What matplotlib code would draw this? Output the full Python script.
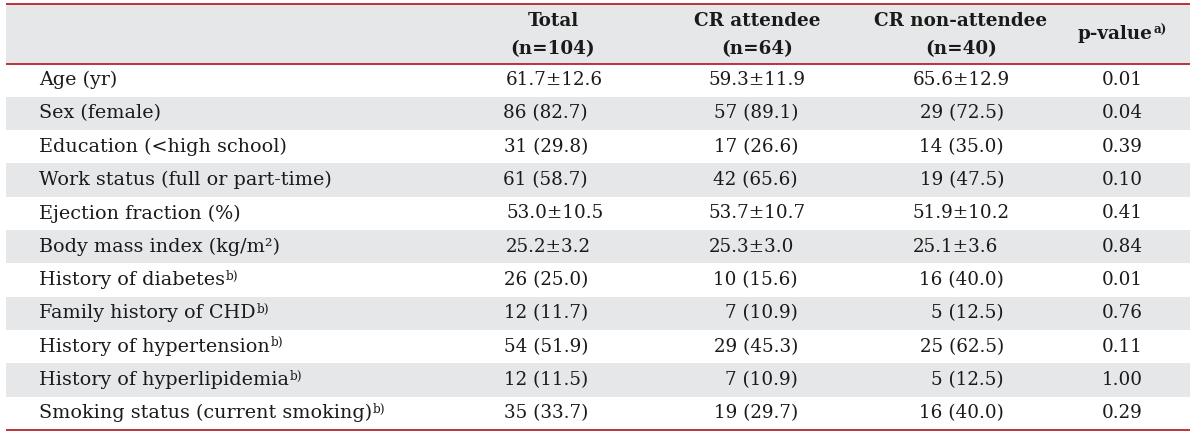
import matplotlib
matplotlib.use("Agg")
import matplotlib.pyplot as plt
from matplotlib.patches import Rectangle

# ---------------- data ----------------
row_labels = [
    "Age (yr)",
    "Sex (female)",
    "Education (<high school)",
    "Work status (full or part-time)",
    "Ejection fraction (%)",
    "Body mass index (kg/m²)",
    "History of diabetes",
    "Family history of CHD",
    "History of hypertension",
    "History of hyperlipidemia",
    "Smoking status (current smoking)",
]
row_notes = ["", "", "", "", "", "", "b)", "b)", "b)", "b)", "b)"]
row_kind = ["mean", "count", "count", "count", "mean", "mean",
            "count", "count", "count", "count", "count"]

total_vals = ["61.7±12.6", "86 (82.7)", "31 (29.8)", "61 (58.7)", "53.0±10.5",
              "25.2±3.2", "26 (25.0)", "12 (11.7)", "54 (51.9)", "12 (11.5)", "35 (33.7)"]
attendee_vals = ["59.3±11.9", "57 (89.1)", "17 (26.6)", "42 (65.6)", "53.7±10.7",
                 "25.3±3.0", "10 (15.6)", "7 (10.9)", "29 (45.3)", "7 (10.9)", "19 (29.7)"]
nonattendee_vals = ["65.6±12.9", "29 (72.5)", "14 (35.0)", "19 (47.5)", "51.9±10.2",
                    "25.1±3.6", "16 (40.0)", "5 (12.5)", "25 (62.5)", "5 (12.5)", "16 (40.0)"]
p_values = ["0.01", "0.04", "0.39", "0.10", "0.41", "0.84",
            "0.01", "0.76", "0.11", "1.00", "0.29"]

header_lines = [("Total", "(n=104)"), ("CR attendee", "(n=64)"),
                ("CR non-attendee", "(n=40)")]
p_header = "p-value"
p_header_note = "a)"

# ---------------- layout ----------------
W, H = 1200, 433
FONT = "DejaVu Serif"
FS_LABEL = 13.8
FS_VAL = 13.2
FS_HEAD = 13.2
TXT = "#1a1a1a"
RED = "#b8232b"
GRAY = "#e6e7e8"
x0, x1 = 6, 1190
top_y, head_bot = 3.5, 63.5
bot_y = 430
n = len(row_labels)
row_h = (bot_y - head_bot) / n

label_x = 39
col_centers = [553, 757, 961]
mean_left = [506, 709, 913]
count_right = [588, 798, 1004]
p_center = 1122

fig = plt.figure(figsize=(W / 100, H / 100), dpi=100)
ax = fig.add_axes([0, 0, 1, 1])
ax.set_xlim(0, W)
ax.set_ylim(H, 0)
ax.axis("off")

# header background
ax.add_patch(Rectangle((x0, top_y), x1 - x0, head_bot - top_y, color=GRAY, lw=0, zorder=0))
# stripes
for i in range(n):
    if i % 2 == 1:
        y = head_bot + i * row_h
        ax.add_patch(Rectangle((x0, y), x1 - x0, row_h, color=GRAY, lw=0, zorder=0))

for yy in (top_y, head_bot, bot_y):
    ax.plot([x0, x1], [yy, yy], color=RED, lw=1.3, zorder=2, solid_capstyle="butt")

fig.canvas.draw()
renderer = fig.canvas.get_renderer()
inv = ax.transData.inverted()


def add_note(txt_obj, note, size):
    bb = txt_obj.get_window_extent(renderer=renderer)
    (xr, ytop), = inv.transform([[bb.x1, bb.y1]])
    ax.text(xr + 1.0, ytop - 1.5, note, fontsize=size, family=FONT, color=TXT,
            ha="left", va="top", fontweight=txt_obj.get_fontweight())


# header text
for (l1, l2), cx in zip(header_lines, col_centers):
    ax.text(cx, 21, l1, fontsize=FS_HEAD, family=FONT, fontweight="bold", color=TXT,
            ha="center", va="center")
    ax.text(cx, 49, l2, fontsize=FS_HEAD, family=FONT, fontweight="bold", color=TXT,
            ha="center", va="center")
ph = ax.text(1115, 34, p_header, fontsize=FS_HEAD, family=FONT, fontweight="bold",
             color=TXT, ha="center", va="center")
add_note(ph, p_header_note, FS_HEAD * 0.65)

# body
for i in range(n):
    yc = head_bot + (i + 0.5) * row_h
    t = ax.text(label_x, yc, row_labels[i], fontsize=FS_LABEL, family=FONT, color=TXT,
                ha="left", va="center")
    if row_notes[i]:
        add_note(t, row_notes[i], FS_LABEL * 0.63)
    for j, vals in enumerate((total_vals, attendee_vals, nonattendee_vals)):
        if row_kind[i] == "mean":
            ax.text(mean_left[j], yc, vals[i], fontsize=FS_VAL, family=FONT, color=TXT,
                    ha="left", va="center")
        else:
            ax.text(count_right[j], yc, vals[i], fontsize=FS_VAL, family=FONT, color=TXT,
                    ha="right", va="center")
    ax.text(p_center, yc, p_values[i], fontsize=FS_VAL, family=FONT, color=TXT,
            ha="center", va="center")

fig.savefig("out.png", dpi=100)
